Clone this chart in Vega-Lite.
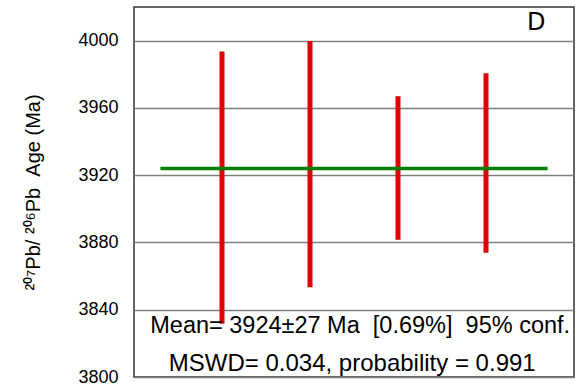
{
  "$schema": "https://vega.github.io/schema/vega-lite/v6.json",
  "width": 440,
  "height": 370,
  "autosize": {"type": "none"},
  "padding": {"left": 134, "top": 7, "right": 4, "bottom": 15},
  "config": {
    "font": "Liberation Sans",
    "view": {"stroke": "#333333", "strokeWidth": 1.5}
  },
  "datasets": {
    "spots": [
      {"spot": 1, "lo": 3831.7, "hi": 3993.5},
      {"spot": 2, "lo": 3853.4, "hi": 3999.8},
      {"spot": 3, "lo": 3881.6, "hi": 3967.0},
      {"spot": 4, "lo": 3873.9, "hi": 3980.6}
    ],
    "mean": [{"mean": 3924}]
  },
  "layer": [
    {
      "data": {"name": "spots"},
      "mark": {"type": "rule", "color": "#e00000", "strokeWidth": 5, "strokeCap": "butt"},
      "encoding": {
        "x": {"field": "spot", "type": "quantitative", "scale": {"domain": [0, 5]}, "axis": null},
        "y": {
          "field": "lo", "type": "quantitative",
          "scale": {"domain": [3800, 4020], "nice": false, "zero": false},
          "axis": {
            "values": [3800, 3840, 3880, 3920, 3960, 4000],
            "format": "d",
            "grid": true, "gridColor": "#808080", "gridWidth": 1.5,
            "ticks": false, "domain": false,
            "labelFontSize": 18, "labelColor": "#000000", "labelPadding": 16,
            "title": "\u00b2\u2070\u2077Pb/\u00a0\u00b2\u2070\u2076Pb\u00a0\u00a0Age\u00a0(Ma)",
            "titleFontSize": 20, "titleFontWeight": "normal", "titleColor": "#000000",
            "titlePadding": 34
          }
        },
        "y2": {"field": "hi"}
      }
    },
    {
      "data": {"name": "mean"},
      "mark": {"type": "rule", "color": "#008000", "strokeWidth": 3.5},
      "encoding": {
        "x": {"datum": 0.3},
        "x2": {"datum": 4.7},
        "y": {"field": "mean", "type": "quantitative"}
      }
    },
    {
      "data": {"values": [{"label": "Mean=\u00a03924\u00b127\u00a0Ma\u00a0\u00a0[0.69%]\u00a0\u00a095%\u00a0conf."}]},
      "mark": {"type": "text", "fontSize": 23.5, "color": "#000000", "align": "center", "baseline": "middle"},
      "encoding": {
        "x": {"datum": 2.57},
        "y": {"datum": 3830.5},
        "text": {"field": "label"}
      }
    },
    {
      "data": {"values": [{"label": "MSWD= 0.034, probability = 0.991"}]},
      "mark": {"type": "text", "fontSize": 24, "color": "#000000", "align": "center", "baseline": "middle"},
      "encoding": {
        "x": {"datum": 2.48},
        "y": {"datum": 3808},
        "text": {"field": "label"}
      }
    },
    {
      "data": {"values": [{"label": "D"}]},
      "mark": {"type": "text", "fontSize": 24, "color": "#000000", "align": "center", "baseline": "middle", "font": "DejaVu Sans"},
      "encoding": {
        "x": {"datum": 4.57},
        "y": {"datum": 4010.5},
        "text": {"field": "label"}
      }
    }
  ]
}
